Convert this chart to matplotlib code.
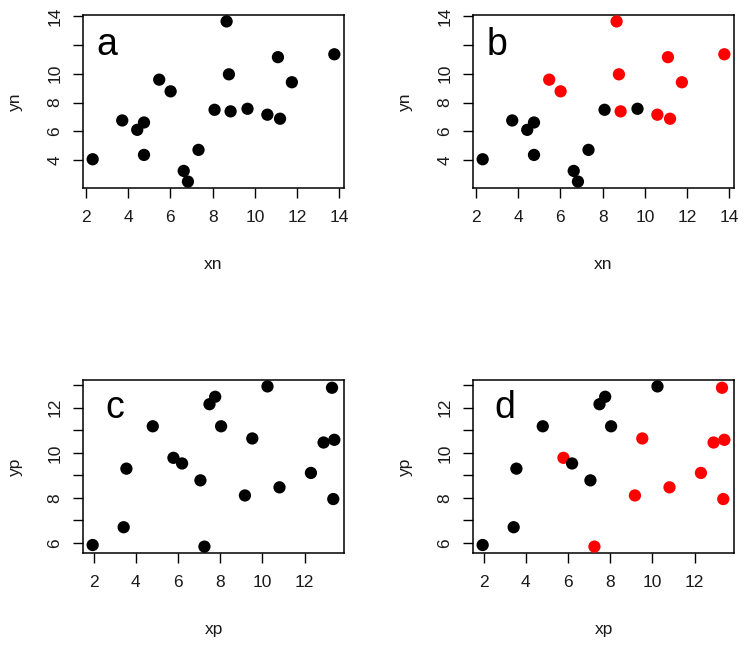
import matplotlib
matplotlib.use("Agg")
import matplotlib.pyplot as plt
import numpy as np

plt.rcParams['font.family'] = ['Liberation Sans', 'DejaVu Sans']

# top row data (n)
xn = [2.32, 3.72, 4.43, 4.75, 4.75, 5.47, 6.01, 6.63, 6.83, 7.33,
      8.09, 8.66, 8.77, 8.85, 9.65, 10.59, 11.09, 11.19, 11.75, 13.76]
yn = [4.07, 6.76, 6.11, 6.62, 4.37, 9.59, 8.78, 3.26, 2.52, 4.72,
      7.50, 13.63, 9.96, 7.39, 7.57, 7.16, 11.15, 6.88, 9.41, 11.35]
group_n = [0, 0, 0, 0, 0, 1, 1, 0, 0, 0, 0, 1, 1, 1, 0, 1, 1, 1, 1, 1]

# bottom row data (p)
xp = [1.95, 3.42, 3.55, 4.80, 5.78, 6.19, 7.06, 7.25, 7.49, 7.76,
      8.04, 9.17, 9.52, 10.24, 10.81, 12.30, 12.90, 13.30, 13.41, 13.36]
yp = [5.91, 6.70, 9.30, 11.18, 9.78, 9.53, 8.78, 5.84, 12.16, 12.49,
      11.18, 8.11, 10.64, 12.95, 8.47, 9.11, 10.46, 12.89, 10.58, 7.95]
group_p = [0, 0, 0, 0, 1, 0, 0, 1, 0, 0, 0, 1, 1, 0, 1, 1, 1, 1, 1, 1]

xn_ticks = [2, 4, 6, 8, 10, 12, 14]
yn_ticks = [4, 6, 8, 10, 12, 14]
yn_labels = ['4', '6', '8', '10', '', '14']
xp_ticks = [2, 4, 6, 8, 10, 12]
yp_ticks = [6, 7, 8, 9, 10, 11, 12, 13]
yp_labels = ['6', '', '8', '', '10', '', '12', '']

fig = plt.figure(figsize=(7.55, 6.48), dpi=100)
W, H = 755, 648


def make_axes(left, top, right, bottom):
    return fig.add_axes([left / W, 1 - bottom / H, (right - left) / W, (bottom - top) / H])


def rlim(v):
    lo, hi = min(v), max(v)
    pad = 0.04 * (hi - lo)
    return lo - pad, hi + pad


def panel(ax, x, y, groups, letter, xlab, ylab, xt, yt, ytl, colored):
    if colored:
        cols = ['red' if g else 'black' for g in groups]
    else:
        cols = 'black'
    ax.scatter(x, y, s=78, c=cols, edgecolors='none', zorder=3)
    ax.set_xlim(*rlim(x))
    ax.set_ylim(*rlim(y))
    ax.set_xticks(xt)
    ax.set_xticklabels([str(t) for t in xt])
    ax.set_yticks(yt)
    ax.set_yticklabels(ytl, rotation=90, va='center')
    ax.tick_params(axis='both', direction='out', length=7, width=1,
                   labelsize=12.5, colors='black', labelcolor='#1a1a1a')
    ax.tick_params(axis='x', pad=9)
    ax.tick_params(axis='y', pad=8)
    for sp in ax.spines.values():
        sp.set_linewidth(1.1)
    ax.text(3, 12, letter, fontsize=27, ha='center', va='center')
    ax.set_xlabel(xlab, fontsize=12.5, color='#1a1a1a')
    ax.set_ylabel(ylab, fontsize=12.5, color='#1a1a1a')
    ax.xaxis.set_label_coords(0.5, -0.44)
    ax.xaxis.label.set_va('center')
    ax.yaxis.set_label_coords(-0.26, 0.5)
    ax.yaxis.label.set_va('center')


ax_a = make_axes(83, 15, 344, 188)
ax_b = make_axes(473, 15, 734, 188)
ax_c = make_axes(83, 380, 344, 553)
ax_d = make_axes(473, 380, 734, 553)

panel(ax_a, xn, yn, group_n, 'a', 'xn', 'yn', xn_ticks, yn_ticks, yn_labels, False)
panel(ax_b, xn, yn, group_n, 'b', 'xn', 'yn', xn_ticks, yn_ticks, yn_labels, True)
panel(ax_c, xp, yp, group_p, 'c', 'xp', 'yp', xp_ticks, yp_ticks, yp_labels, False)
panel(ax_d, xp, yp, group_p, 'd', 'xp', 'yp', xp_ticks, yp_ticks, yp_labels, True)

fig.savefig('out.png', dpi=100)
